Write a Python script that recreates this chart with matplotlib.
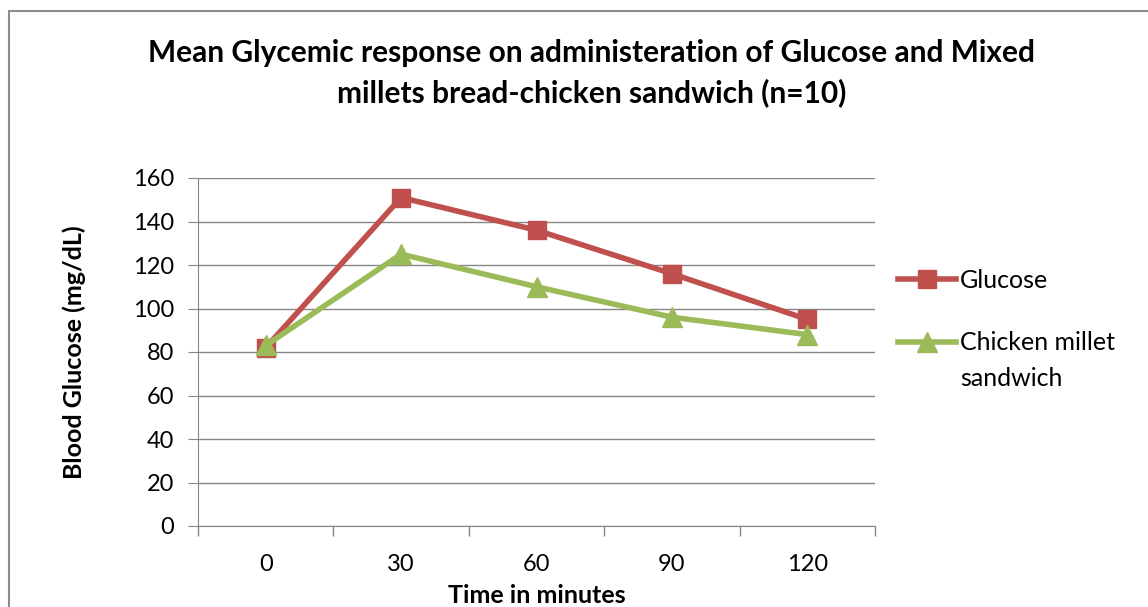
import matplotlib.pyplot as plt
from matplotlib.patches import Rectangle

times = ["0", "30", "60", "90", "120"]
glucose = [82, 151, 136, 116, 95]
chicken = [83, 125, 110, 96, 88]
series_names = ["Glucose", "Chicken millet", "sandwich"]

plt.rcParams['font.family'] = ['Lato', 'DejaVu Sans']

fig = plt.figure(figsize=(11.48, 6.07), dpi=100)
# outer chart border (right and bottom edges fall outside the picture)
fig.patches.append(Rectangle((9 / 1148, -0.1), 1.2, 1.1 - 11 / 607,
                             transform=fig.transFigure, fill=False,
                             edgecolor="#8c8c8c", linewidth=1.5))

ax = fig.add_axes([198 / 1148, 81 / 607, 677 / 1148, 348 / 607])
x = list(range(len(times)))
ax.plot(x, glucose, color="#C0504D", linewidth=4, marker="s", markersize=13,
        label=series_names[0])
ax.plot(x, chicken, color="#9BBB59", linewidth=4, marker="^", markersize=14,
        label=series_names[1])

ax.set_xlim(-0.5, len(times) - 0.5)
ax.set_ylim(0, 160)
ax.set_yticks(range(0, 161, 20))
ax.set_xticks([i - 0.5 for i in range(len(times) + 1)])
ax.set_xticklabels([])
ax.set_xticks(x, minor=True)
ax.set_xticklabels(times, minor=True)
ax.tick_params(axis="x", which="major", length=7, color="#868686", width=1)
ax.tick_params(axis="x", which="minor", length=0, pad=20, labelsize=17)
ax.tick_params(axis="y", length=7, color="#868686", labelsize=17, pad=10)
ax.grid(axis="y", color="#868686", linewidth=1)
ax.set_axisbelow(True)
for s in ["top", "right"]:
    ax.spines[s].set_visible(False)
for s in ["left", "bottom"]:
    ax.spines[s].set_color("#868686")

ax.set_xlabel("Time in minutes", fontsize=18, fontweight="bold")
ax.xaxis.set_label_coords(0.5, -0.168)
ax.set_ylabel("Blood Glucose (mg/dL)", fontsize=18, fontweight="bold")
ax.yaxis.set_label_coords(-0.166, 0.5)

fig.text(592 / 1148, 1 - 73 / 607,
         "Mean Glycemic response on administeration of Glucose and Mixed\n"
         "millets bread-chicken sandwich (n=10)",
         ha="center", va="center", fontsize=21.5, fontweight="bold",
         linespacing=1.45)

leg = fig.legend(loc="upper left", bbox_to_anchor=(876 / 1148, 1 - 246 / 607),
                 frameon=False, fontsize=18, handlelength=2.3,
                 handletextpad=0.15, labelspacing=1.6)

# second line of the green entry sits under "Chicken millet"
fig.canvas.draw()
bb = leg.get_texts()[1].get_window_extent().transformed(fig.transFigure.inverted())
fig.text(bb.x0, bb.y0 - 35 / 607, series_names[2], fontsize=18,
         ha="left", va="bottom")

fig.savefig("out.png", dpi=100)
